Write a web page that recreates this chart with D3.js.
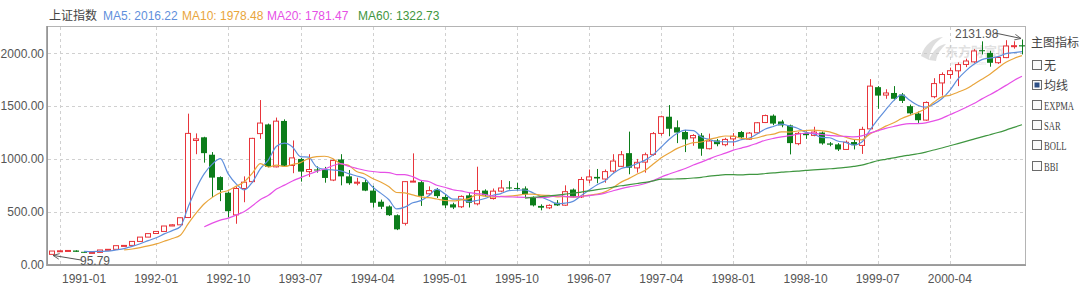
<!DOCTYPE html>
<html>
<head>
<meta charset="utf-8">
<script src="https://cdn.jsdelivr.net/npm/d3@7"></script>
<style>
  body { margin: 0; background: #fff; }
  svg { display: block; font-family: "Liberation Sans", Arial, sans-serif; }
</style>
</head>
<body>
<script>
// Shanghai composite, monthly candles 1990-12 .. 2001-01
var months = [
  "1990-12",
  "1991-01","1991-02","1991-03","1991-04","1991-05","1991-06","1991-07","1991-08","1991-09","1991-10","1991-11","1991-12",
  "1992-01","1992-02","1992-03","1992-04","1992-05","1992-06","1992-07","1992-08","1992-09","1992-10","1992-11","1992-12",
  "1993-01","1993-02","1993-03","1993-04","1993-05","1993-06","1993-07","1993-08","1993-09","1993-10","1993-11","1993-12",
  "1994-01","1994-02","1994-03","1994-04","1994-05","1994-06","1994-07","1994-08","1994-09","1994-10","1994-11","1994-12",
  "1995-01","1995-02","1995-03","1995-04","1995-05","1995-06","1995-07","1995-08","1995-09","1995-10","1995-11","1995-12",
  "1996-01","1996-02","1996-03","1996-04","1996-05","1996-06","1996-07","1996-08","1996-09","1996-10","1996-11","1996-12",
  "1997-01","1997-02","1997-03","1997-04","1997-05","1997-06","1997-07","1997-08","1997-09","1997-10","1997-11","1997-12",
  "1998-01","1998-02","1998-03","1998-04","1998-05","1998-06","1998-07","1998-08","1998-09","1998-10","1998-11","1998-12",
  "1999-01","1999-02","1999-03","1999-04","1999-05","1999-06","1999-07","1999-08","1999-09","1999-10","1999-11","1999-12",
  "2000-01","2000-02","2000-03","2000-04","2000-05","2000-06","2000-07","2000-08","2000-09","2000-10","2000-11","2000-12",
  "2001-01"
];

var open = [
  96.05,
  127.61,129.97,132.53,120.19,114.00,114.83,137.56,143.80,178.43,180.92,218.60,259.60,
  293.75,313.24,364.73,376,445,1175,1205,1040,828,680,470,720,
  785,1240,1327,925,1360,938,1000,880,900,895,800,995,
  835,770,780,700,595,550,467,390,785,780,670,710,
  640,570,547,655,575,700,625,695,730,725,720,640,
  555,537,585,562,710,640,800,830,810,885,930,1055,
  915,970,1043,1242,1400,1300,1255,1200,1222,1097,1175,1135,
  1190,1255,1187,1248,1345,1410,1355,1318,1145,1245,1223,1250,
  1147,1138,1090,1160,1128,1285,1680,1605,1625,1610,1500,1430,
  1368,1590,1720,1800,1835,1895,1920,2030,2005,1912,1960,2070,
  2077
];
var high = [
  127.61,
  135.19,134.87,134.30,120.50,115.00,137.56,143.80,178.43,183.90,219.00,259.60,292.75,
  313.24,365.00,382.00,445,1429,1242,1210,1065,835,690,740,835,
  1200,1558,1335,1392,1375,1175,1010,1045,930,925,1000,1045,
  895,822,800,745,615,560,475,790,1052.94,800,740,725,
  665,585,655,680,926.41,712,720,800,790,775,740,645,
  570,570,610,750,720,830,900,905,900,1045,1075,1258.69,
  1000,1060,1255,1410,1510.18,1365,1275,1235,1245,1240,1190,1200,
  1245,1265,1255,1350,1420,1422,1370,1325,1255,1260,1305,1260,
  1160,1150,1175,1180,1305,1756.18,1690,1660,1690,1625,1515,1450,
  1545,1765,1820,1865,1915,1950,2040,2114,2025,1975,2125,2115,
  2131.98
];
var low = [
  95.79,
  127.61,129.50,120.19,113.94,104.96,114.50,136.00,143.80,176.50,180.92,218.00,259.60,
  292.00,313.00,364.00,376,440,1045,965,640,600,445,386,590,
  775,1190,920,920,930,865,785,830,870,775,790,750,
  755,750,695,540,525,460,325.89,370,780,555,650,630,
  535,525,535,540,560,640,615,685,710,700,630,550,
  512.83,525,555,555,635,630,770,770,775,870,925,855,
  870,870,1030,1220,1215,1150,1065,1125,1030,1090,1120,1120,
  1120,1195,1180,1240,1340,1320,1300,1043,1130,1190,1215,1135,
  1120,1075,1085,1090,1047.83,1280,1475,1570,1555,1530,1420,1341,
  1361,1575,1600,1760,1690,1870,1910,1990,1874,1900,1955,2045,
  1990
];
var close = [
  127.61,
  129.97,133.01,120.19,113.94,114.83,137.56,143.80,178.43,180.92,218.60,259.60,292.75,
  313.24,364.73,376,443,1242,1190,1055,823,705,505,720,780,
  1195,1340,925,1358,935,1010,880,900,893,820,985,835,
  770,780,700,585,547,467,333,785,790,650,700,648,
  560,540,645,585,700,655,695,725,725,720,665,560,
  538,560,560,690,642,805,830,815,880,980,1040,917,
  968,1040,1240,1400,1286,1250,1185,1222,1097,1170,1140,1185,
  1215,1205,1245,1343,1411,1335,1318,1150,1242,1225,1255,1147,
  1135,1090,1158,1130,1280,1690,1600,1625,1570,1550,1432,1367,
  1535,1714,1800,1836,1894,1928,2023,2022,1911,1961,2070,2073,
  2066
];

var xTicks = ["1991-01","1992-01","1992-10","1993-07","1994-04","1995-01","1995-10",
              "1996-07","1997-04","1998-01","1998-10","1999-07","2000-04"];
var yTicks = [0, 500, 1000, 1500, 2000];

var maPeriods = [5, 10, 20, 60];
var maColors = ["#5f8fdc", "#e9a53c", "#e650e6", "#3f9640"];
var maLegend = ["MA5: 2016.22", "MA10: 1978.48", "MA20: 1781.47", "MA60: 1322.73"];
var indicators = ["无", "均线", "EXPMA", "SAR", "BOLL", "BBI"];

var width = 1080, height = 286;
var upColor = "#e8353b", downColor = "#0c7d1a";

var svg = d3.select("body").append("svg")
    .attr("width", width)
    .attr("height", height);

var x = d3.scaleBand()
    .domain(months)
    .range([48, 1026])
    .paddingInner(0.25)
    .paddingOuter(0.125);

var y = d3.scaleLinear()
    .domain([0, 2250])
    .range([264.5, 27]);

var cx = function(m) { return x(m) + x.bandwidth() / 2; };

// grid
svg.append("g").selectAll("line")
    .data(yTicks.slice(1))
    .enter().append("line")
    .attr("x1", 48).attr("x2", 1026)
    .attr("y1", d => Math.round(y(d)) + 0.5)
    .attr("y2", d => Math.round(y(d)) + 0.5)
    .attr("stroke", "#d0d0d0")
    .attr("stroke-dasharray", "3,3");

svg.append("g").selectAll("line")
    .data(xTicks)
    .enter().append("line")
    .attr("x1", d => Math.round(cx(d)) + 0.5)
    .attr("x2", d => Math.round(cx(d)) + 0.5)
    .attr("y1", 27).attr("y2", 264)
    .attr("stroke", "#d0d0d0")
    .attr("stroke-dasharray", "3,3");

// frame
svg.append("rect")
    .attr("x", 47.5).attr("y", 26.5)
    .attr("width", 978).attr("height", 238)
    .attr("fill", "none")
    .attr("stroke", "#b4b4b4");
svg.append("line")
    .attr("x1", 47).attr("x2", 47).attr("y1", 26).attr("y2", 266)
    .attr("stroke", "#8c8c8c").attr("stroke-width", 1.5);
svg.append("line")
    .attr("x1", 47).attr("x2", 1026).attr("y1", 265.2).attr("y2", 265.2)
    .attr("stroke", "#9a9a9a").attr("stroke-width", 1.8);

// y labels
svg.append("g").selectAll("text")
    .data(yTicks)
    .enter().append("text")
    .attr("x", 44)
    .attr("y", d => y(d))
    .attr("dy", "0.35em")
    .attr("text-anchor", "end")
    .attr("font-size", 12)
    .attr("fill", "#555")
    .text(d => d3.format(".2f")(d));

// x labels
svg.append("g").selectAll("text")
    .data(xTicks)
    .enter().append("text")
    .attr("x", (d, i) => i === 0 ? cx(d) + 2 : cx(d))
    .attr("y", 283)
    .attr("text-anchor", (d, i) => i === 0 ? "start" : "middle")
    .attr("font-size", 12)
    .attr("fill", "#555")
    .text(d => d);

// watermark
var wm = svg.append("g").attr("opacity", 0.55);
wm.append("path")
    .attr("d", "M921,56 C925,44 933,38 943,37 C935,42 930,49 929,60 Z M929,60 C933,50 939,45 946,44 C941,49 937,54 936,61 Z")
    .attr("fill", "#c4c4c4");
wm.append("text")
    .attr("x", 945).attr("y", 56)
    .attr("font-size", 13).attr("font-weight", "bold")
    .attr("font-family", "'Noto Sans CJK SC', sans-serif")
    .attr("fill", "#cacaca")
    .text("东方财富网");
wm.append("text")
    .attr("x", 951).attr("y", 65)
    .attr("font-size", 5)
    .attr("fill", "#cacaca")
    .text("eastmoney.com");

// candles
var rows = months.map((m, i) => ({m: m, o: open[i], h: high[i], l: low[i], c: close[i]}));
var bw = x.bandwidth();

var candle = svg.append("g").selectAll("g")
    .data(rows)
    .enter().append("g");

candle.append("line")
    .attr("x1", d => Math.round(cx(d.m)) + 0.5)
    .attr("x2", d => Math.round(cx(d.m)) + 0.5)
    .attr("y1", d => y(d.h))
    .attr("y2", d => y(d.l))
    .attr("stroke", d => d.c >= d.o ? upColor : downColor);

candle.append("rect")
    .attr("x", d => d.c >= d.o ? Math.round(cx(d.m) - bw / 2) + 0.5 : Math.round(cx(d.m) - bw / 2))
    .attr("width", d => d.c >= d.o ? Math.round(bw) - 1 : Math.round(bw))
    .attr("y", d => y(Math.max(d.o, d.c)))
    .attr("height", d => Math.max(1, y(Math.min(d.o, d.c)) - y(Math.max(d.o, d.c))))
    .attr("fill", d => d.c >= d.o ? "#fff" : downColor)
    .attr("stroke", d => d.c >= d.o ? upColor : "none");

// moving averages of the closes
function movingAvg(n) {
  return close.map((c, i) => i < n - 1 ? null : d3.mean(close.slice(i - n + 1, i + 1)));
}

var line = d3.line()
    .defined(d => d.v != null)
    .x(d => cx(d.m))
    .y(d => y(d.v))
    .curve(d3.curveMonotoneX);

maPeriods.forEach(function(n, k) {
  var vals = movingAvg(n);
  svg.append("path")
      .datum(months.map((m, i) => ({m: m, v: vals[i]})))
      .attr("d", line)
      .attr("fill", "none")
      .attr("stroke", maColors[k])
      .attr("stroke-width", 1.2);
});

// min / max notes
svg.append("defs").append("marker")
    .attr("id", "arr")
    .attr("viewBox", "0 0 10 10")
    .attr("refX", 9).attr("refY", 5)
    .attr("markerWidth", 7).attr("markerHeight", 7)
    .attr("orient", "auto")
    .append("path")
    .attr("d", "M0,1 L9,5 L0,9")
    .attr("fill", "none")
    .attr("stroke", "#555")
    .attr("stroke-width", 1.2);

function note(txt, tx, ty, ax1, ay1, ax2, ay2) {
  svg.append("line")
      .attr("x1", ax1).attr("y1", ay1)
      .attr("x2", ax2).attr("y2", ay2)
      .attr("stroke", "#555").attr("stroke-width", 1)
      .attr("marker-end", "url(#arr)");
  svg.append("text")
      .attr("x", tx).attr("y", ty)
      .attr("font-size", 12).attr("fill", "#555")
      .text(txt);
}

var first = rows[0], last = rows[rows.length - 1];
note(d3.format(".2f")(d3.min(low)), 80, 264.5, 81, 260, cx(first.m) + 1, y(first.l) + 1);
note(d3.format(".2f")(d3.max(high)), 955, 38, 995, 33, cx(last.m) - 1, y(last.h) - 1);

// header legend
var header = svg.append("g").attr("font-size", 12);
header.append("text")
    .attr("x", 49).attr("y", 20)
    .attr("font-family", "'Noto Sans CJK SC', sans-serif")
    .attr("fill", "#444")
    .text("上证指数");
var legX = [103, 182, 267, 358];
maLegend.forEach(function(t, k) {
  header.append("text")
      .attr("x", legX[k]).attr("y", 20)
      .attr("fill", maColors[k])
      .text(t);
});

// indicator panel
var panel = svg.append("g");
panel.append("text")
    .attr("x", 1031).attr("y", 47)
    .attr("font-size", 12)
    .attr("font-family", "'Noto Sans CJK SC', sans-serif")
    .attr("fill", "#444")
    .text("主图指标");
indicators.forEach(function(t, k) {
  var by = Math.round(59.5 + k * 20.2);
  panel.append("rect")
      .attr("x", 1032.5).attr("y", by + 0.5)
      .attr("width", 9).attr("height", 9)
      .attr("fill", "#fafafa")
      .attr("stroke", "#6a6a6a");
  if (k === 1) {
    panel.append("rect")
        .attr("x", 1034.5).attr("y", by + 2.5)
        .attr("width", 5).attr("height", 5)
        .attr("fill", "#2d4f86");
  }
  var isCjk = /[\u4e00-\u9fff]/.test(t);
  if (isCjk) {
    panel.append("text")
        .attr("x", 1044).attr("y", by + 9.5)
        .attr("font-size", 12)
        .attr("fill", "#444")
        .attr("font-family", "'Noto Sans CJK SC', sans-serif")
        .text(t);
  } else {
    // narrow serif, squeezed horizontally
    panel.append("text")
        .attr("transform", "translate(1044," + (by + 9.5) + ") scale(0.66,1)")
        .attr("font-size", 13)
        .attr("fill", "#444")
        .attr("font-family", "'Liberation Serif', serif")
        .text(t);
  }
});
</script>
</body>
</html>
